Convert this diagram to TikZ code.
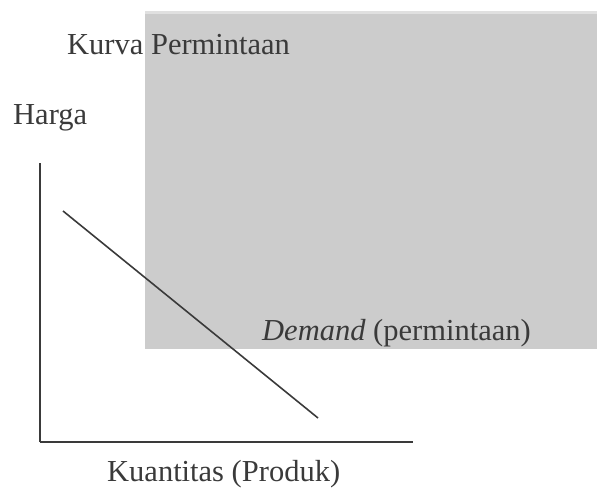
\documentclass[tikz,border=0pt]{standalone}
\usepackage{fontspec}
\setmainfont{Liberation Serif}
\usetikzlibrary{positioning,calc}
\definecolor{panel}{HTML}{CCCCCC}
\definecolor{ink}{HTML}{3A3A3A}
\tikzset{
  lbl/.style={anchor=base west, inner sep=0pt, text=ink, font=\fontsize{30.5}{36}\selectfont},
  axis/.style={draw=ink, line width=1.4pt},
  curve/.style={draw=ink, line width=1.6pt}
}

\begin{document}
\begin{tikzpicture}[x=1pt,y=-1pt]
    \useasboundingbox (0,0) rectangle (597,489);
    \fill[panel!60] (145,11) rectangle (597,14);
    \fill[panel] (145,14) rectangle (597,349);
    \node[lbl] (title) at (67,55) {Kurva Permintaan};
    \node[lbl] (harga) at (13,125) {Harga};
    \node[lbl] (demand) at (262,340) {\textit{Demand} (permintaan)};
    \node[lbl] (kuantitas) at (107,481) {Kuantitas (Produk)};
    \coordinate (O) at (40,442);
    \coordinate (Y) at (40,163);
    \coordinate (X) at (413,442);
    \coordinate (D1) at (63,211);
    \coordinate (D2) at (318,418);
    \path [axis](O) edge node {} (Y);
    \path [axis](O) edge node {} (X);
    \path [curve](D1) edge node {} (D2);
\end{tikzpicture}
\end{document}
